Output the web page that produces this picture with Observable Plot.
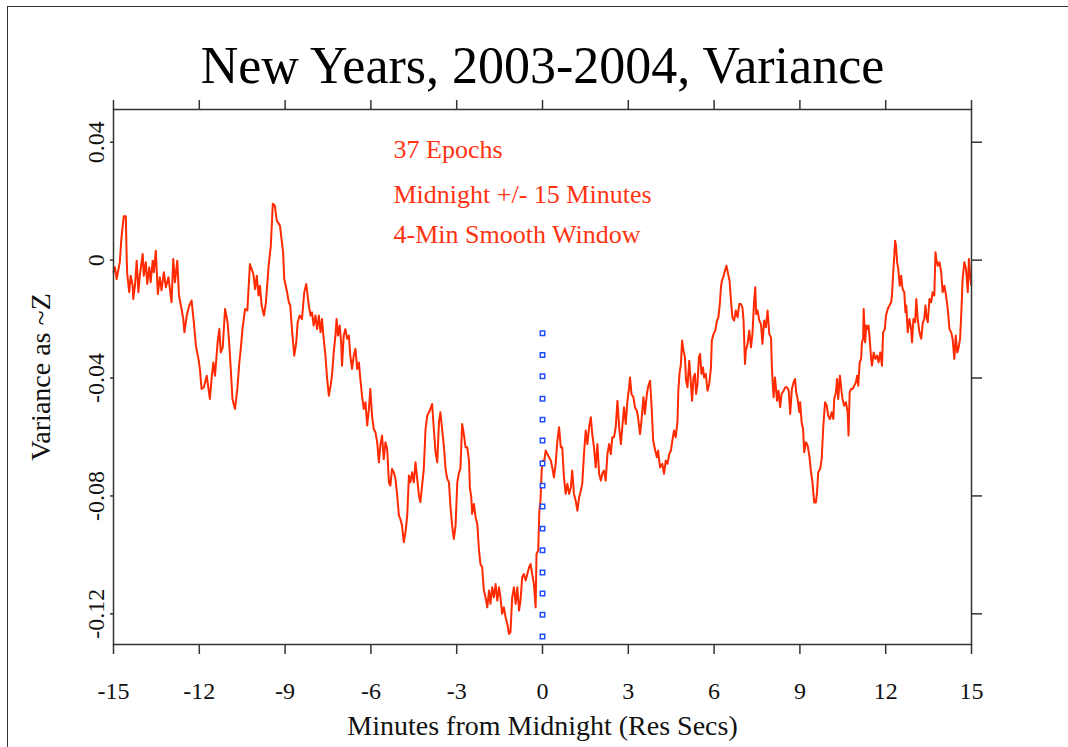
<!DOCTYPE html>
<html><head><meta charset="utf-8">
<script src="https://cdn.jsdelivr.net/npm/d3@7"></script>
<script src="https://cdn.jsdelivr.net/npm/@observablehq/plot@0.6"></script>
<style>
html,body{margin:0;padding:0;background:#fff;}
#wrap{position:relative;width:1068px;height:747px;overflow:hidden;}
#border{position:absolute;left:7px;top:6px;width:1100px;height:800px;border-left:1.5px solid #333;border-top:1.5px solid #333;}
#wrap svg{position:absolute;left:0;top:0;}
</style></head><body><div id="wrap"><div id="border"></div></div>
<script>
const title = "New Years, 2003-2004, Variance";
const xLabel = "Minutes from Midnight (Res Secs)";
const yLabel = "Variance as ~Z";
const notes = ["37 Epochs", "Midnight +/- 15 Minutes", "4-Min Smooth Window"];
const xTicks = [-15, -12, -9, -6, -3, 0, 3, 6, 9, 12, 15];
const yTicks = [0.04, 0, -0.04, -0.08, -0.12];
const yTickLabels = ["0.04", "0", "-0.04", "-0.08", "-0.12"];

const minutes = [
-15.00,-14.95,-14.89,-14.78,-14.72,-14.64,-14.57,-14.54,-14.52,-14.45,
-14.40,-14.33,-14.31,-14.25,-14.19,-14.13,-14.08,-13.98,-13.94,-13.87,
-13.82,-13.75,-13.70,-13.63,-13.59,-13.52,-13.45,-13.38,-13.32,-13.24,
-13.17,-13.08,-12.97,-12.91,-12.85,-12.77,-12.71,-12.62,-12.56,-12.52,
-12.44,-12.35,-12.27,-12.19,-12.12,-12.03,-11.98,-11.92,-11.84,-11.74,
-11.63,-11.57,-11.51,-11.45,-11.36,-11.30,-11.25,-11.18,-11.10,-11.01,
-10.95,-10.90,-10.84,-10.75,-10.67,-10.60,-10.55,-10.49,-10.40,-10.32,
-10.23,-10.11,-10.05,-9.99,-9.93,-9.88,-9.82,-9.74,-9.67,-9.58,
-9.50,-9.43,-9.36,-9.29,-9.18,-9.07,-9.03,-8.93,-8.87,-8.82,
-8.76,-8.68,-8.61,-8.56,-8.49,-8.41,-8.33,-8.26,-8.17,-8.11,
-8.06,-8.00,-7.94,-7.88,-7.82,-7.76,-7.71,-7.65,-7.59,-7.53,
-7.47,-7.41,-7.36,-7.30,-7.24,-7.20,-7.15,-7.09,-7.04,-7.01,
-6.95,-6.89,-6.83,-6.77,-6.72,-6.66,-6.60,-6.54,-6.48,-6.42,
-6.37,-6.31,-6.25,-6.19,-6.13,-6.07,-6.02,-5.96,-5.90,-5.84,
-5.78,-5.72,-5.67,-5.61,-5.55,-5.49,-5.43,-5.37,-5.32,-5.26,
-5.20,-5.14,-5.08,-5.02,-4.97,-4.91,-4.85,-4.79,-4.73,-4.67,
-4.62,-4.56,-4.50,-4.44,-4.38,-4.32,-4.27,-4.21,-4.15,-4.09,
-4.03,-3.97,-3.92,-3.86,-3.80,-3.74,-3.68,-3.62,-3.57,-3.51,
-3.45,-3.39,-3.33,-3.27,-3.22,-3.16,-3.10,-3.04,-2.98,-2.92,
-2.87,-2.81,-2.75,-2.69,-2.63,-2.57,-2.54,-2.49,-2.46,-2.40,
-2.34,-2.28,-2.22,-2.17,-2.11,-2.05,-1.99,-1.93,-1.87,-1.82,
-1.76,-1.70,-1.64,-1.58,-1.52,-1.47,-1.41,-1.35,-1.29,-1.23,
-1.17,-1.12,-1.06,-1.00,-0.94,-0.88,-0.82,-0.77,-0.71,-0.65,
-0.59,-0.53,-0.47,-0.42,-0.36,-0.30,-0.24,-0.21,-0.15,-0.11,
-0.07,-0.03,0.01,0.05,0.11,0.17,0.23,0.29,0.34,0.40,
0.46,0.52,0.58,0.64,0.69,0.75,0.81,0.87,0.93,0.99,
1.04,1.10,1.16,1.22,1.28,1.34,1.39,1.45,1.51,1.57,
1.63,1.69,1.74,1.80,1.86,1.92,1.98,2.04,2.09,2.15,
2.21,2.27,2.33,2.39,2.44,2.50,2.56,2.62,2.68,2.74,
2.79,2.85,2.91,2.97,3.03,3.06,3.11,3.18,3.23,3.30,
3.34,3.41,3.46,3.53,3.58,3.65,3.69,3.76,3.81,3.87,
3.94,4.00,4.04,4.11,4.19,4.25,4.31,4.37,4.43,4.49,
4.54,4.60,4.66,4.72,4.75,4.79,4.84,4.88,4.93,4.98,
5.02,5.07,5.13,5.19,5.23,5.28,5.33,5.37,5.42,5.47,
5.51,5.56,5.61,5.65,5.71,5.77,5.83,5.89,5.92,5.98,
6.04,6.10,6.15,6.20,6.24,6.27,6.32,6.38,6.43,6.49,
6.54,6.59,6.64,6.70,6.76,6.82,6.88,6.94,6.99,7.03,
7.08,7.11,7.17,7.23,7.29,7.34,7.40,7.44,7.47,7.52,
7.58,7.64,7.69,7.75,7.81,7.87,7.93,7.99,8.02,8.08,
8.13,8.20,8.25,8.31,8.36,8.43,8.49,8.55,8.61,8.66,
8.72,8.78,8.83,8.87,8.92,8.98,9.01,9.06,9.11,9.15,
9.21,9.27,9.33,9.39,9.44,9.50,9.56,9.60,9.64,9.71,
9.76,9.82,9.88,9.94,9.99,10.05,10.11,10.17,10.20,10.26,
10.30,10.34,10.40,10.46,10.49,10.55,10.61,10.67,10.70,10.74,
10.79,10.84,10.90,10.96,11.00,11.04,11.09,11.14,11.17,11.21,
11.23,11.28,11.32,11.37,11.40,11.44,11.49,11.52,11.58,11.64,
11.70,11.75,11.81,11.87,11.91,11.97,12.01,12.07,12.13,12.19,
12.22,12.27,12.30,12.33,12.36,12.40,12.44,12.49,12.54,12.59,
12.65,12.69,12.72,12.77,12.83,12.89,12.92,12.97,13.03,13.07,
13.12,13.18,13.24,13.30,13.35,13.39,13.42,13.47,13.53,13.59,
13.64,13.70,13.74,13.77,13.82,13.88,13.94,13.99,14.05,14.11,
14.17,14.23,14.29,14.34,14.40,14.45,14.50,14.54,14.60,14.64,
14.69,14.75,14.81,14.87,14.91,14.95,14.99
];

const variance = [
-0.0040,-0.0024,-0.0064,-0.0007,0.0078,0.0149,0.0149,0.0010,-0.0047,-0.0109,
-0.0053,-0.0087,-0.0132,-0.0087,-0.0002,-0.0109,-0.0053,0.0021,-0.0053,-0.0007,
-0.0081,-0.0024,-0.0075,-0.0002,-0.0041,0.0032,-0.0115,-0.0058,-0.0103,-0.0041,
-0.0092,-0.0058,-0.0143,0.0004,-0.0075,-0.0002,-0.0120,-0.0166,-0.0200,-0.0245,
-0.0188,-0.0154,-0.0137,-0.0211,-0.0290,-0.0335,-0.0369,-0.0437,-0.0431,-0.0392,
-0.0471,-0.0403,-0.0347,-0.0392,-0.0279,-0.0234,-0.0313,-0.0296,-0.0166,-0.0211,
-0.0290,-0.0369,-0.0471,-0.0505,-0.0437,-0.0347,-0.0301,-0.0234,-0.0166,-0.0171,
-0.0013,-0.0047,-0.0098,-0.0053,-0.0120,-0.0087,-0.0154,-0.0188,-0.0143,-0.0024,
0.0049,0.0191,0.0185,0.0134,0.0117,0.0027,-0.0064,-0.0109,-0.0143,-0.0154,
-0.0234,-0.0324,-0.0279,-0.0211,-0.0188,-0.0200,-0.0109,-0.0081,-0.0154,-0.0188,
-0.0177,-0.0222,-0.0188,-0.0234,-0.0188,-0.0245,-0.0200,-0.0267,-0.0324,-0.0403,
-0.0460,-0.0426,-0.0392,-0.0313,-0.0256,-0.0200,-0.0256,-0.0222,-0.0279,-0.0358,
-0.0256,-0.0234,-0.0267,-0.0256,-0.0324,-0.0369,-0.0324,-0.0301,-0.0369,-0.0347,
-0.0403,-0.0460,-0.0505,-0.0482,-0.0561,-0.0505,-0.0437,-0.0528,-0.0573,-0.0584,
-0.0618,-0.0686,-0.0629,-0.0595,-0.0675,-0.0618,-0.0641,-0.0754,-0.0765,-0.0708,
-0.0720,-0.0742,-0.0799,-0.0867,-0.0878,-0.0901,-0.0957,-0.0923,-0.0867,-0.0731,
-0.0754,-0.0720,-0.0754,-0.0686,-0.0742,-0.0799,-0.0821,-0.0765,-0.0708,-0.0573,
-0.0528,-0.0516,-0.0505,-0.0488,-0.0573,-0.0652,-0.0686,-0.0550,-0.0516,-0.0573,
-0.0629,-0.0708,-0.0742,-0.0754,-0.0833,-0.0901,-0.0946,-0.0901,-0.0754,-0.0720,
-0.0708,-0.0556,-0.0590,-0.0635,-0.0635,-0.0680,-0.0771,-0.0805,-0.0861,-0.0827,
-0.0872,-0.0895,-0.0985,-0.1031,-0.1042,-0.1121,-0.1144,-0.1178,-0.1121,-0.1166,
-0.1110,-0.1144,-0.1099,-0.1155,-0.1110,-0.1144,-0.1200,-0.1178,-0.1212,-0.1234,
-0.1268,-0.1262,-0.1144,-0.1110,-0.1166,-0.1110,-0.1189,-0.1155,-0.1076,-0.1065,
-0.1087,-0.1065,-0.1042,-0.1031,-0.1065,-0.1099,-0.1178,-0.0997,-0.0985,-0.0850,
-0.0816,-0.0714,-0.0680,-0.0691,-0.0646,-0.0658,-0.0669,-0.0680,-0.0703,-0.0737,
-0.0691,-0.0612,-0.0567,-0.0635,-0.0635,-0.0737,-0.0793,-0.0759,-0.0793,-0.0771,
-0.0714,-0.0793,-0.0816,-0.0850,-0.0805,-0.0782,-0.0759,-0.0658,-0.0578,-0.0624,
-0.0567,-0.0533,-0.0590,-0.0635,-0.0703,-0.0624,-0.0725,-0.0748,-0.0725,-0.0714,
-0.0748,-0.0658,-0.0624,-0.0658,-0.0601,-0.0601,-0.0567,-0.0477,-0.0567,-0.0624,
-0.0567,-0.0499,-0.0556,-0.0477,-0.0431,-0.0398,-0.0454,-0.0465,-0.0499,-0.0511,
-0.0533,-0.0590,-0.0545,-0.0465,-0.0522,-0.0454,-0.0431,-0.0409,-0.0488,-0.0612,
-0.0646,-0.0669,-0.0646,-0.0703,-0.0691,-0.0725,-0.0680,-0.0691,-0.0658,-0.0646,
-0.0612,-0.0578,-0.0601,-0.0545,-0.0443,-0.0386,-0.0352,-0.0273,-0.0307,-0.0330,
-0.0409,-0.0431,-0.0341,-0.0420,-0.0477,-0.0398,-0.0386,-0.0454,-0.0420,-0.0330,
-0.0318,-0.0386,-0.0364,-0.0398,-0.0386,-0.0443,-0.0420,-0.0364,-0.0273,-0.0251,
-0.0239,-0.0205,-0.0194,-0.0149,-0.0092,-0.0070,-0.0058,-0.0036,-0.0019,-0.0047,
-0.0070,-0.0137,-0.0194,-0.0205,-0.0171,-0.0194,-0.0149,-0.0149,-0.0160,-0.0205,
-0.0352,-0.0307,-0.0284,-0.0239,-0.0296,-0.0251,-0.0137,-0.0092,-0.0183,-0.0171,
-0.0205,-0.0217,-0.0284,-0.0205,-0.0228,-0.0171,-0.0251,-0.0262,-0.0364,-0.0465,
-0.0398,-0.0477,-0.0443,-0.0499,-0.0454,-0.0443,-0.0431,-0.0431,-0.0443,-0.0522,
-0.0437,-0.0414,-0.0403,-0.0448,-0.0471,-0.0516,-0.0482,-0.0550,-0.0573,-0.0652,
-0.0618,-0.0629,-0.0663,-0.0720,-0.0754,-0.0822,-0.0822,-0.0788,-0.0720,-0.0708,
-0.0675,-0.0561,-0.0482,-0.0494,-0.0528,-0.0539,-0.0516,-0.0539,-0.0471,-0.0448,
-0.0403,-0.0471,-0.0392,-0.0448,-0.0471,-0.0494,-0.0482,-0.0516,-0.0595,-0.0448,
-0.0437,-0.0437,-0.0426,-0.0414,-0.0392,-0.0426,-0.0347,-0.0335,-0.0279,-0.0267,
-0.0166,-0.0279,-0.0222,-0.0234,-0.0222,-0.0267,-0.0335,-0.0358,-0.0313,-0.0335,
-0.0324,-0.0347,-0.0313,-0.0358,-0.0245,-0.0234,-0.0188,-0.0166,-0.0154,-0.0143,
-0.0120,-0.0030,0.0015,0.0066,0.0049,-0.0007,-0.0030,-0.0087,-0.0053,-0.0098,
-0.0109,-0.0177,-0.0154,-0.0245,-0.0200,-0.0234,-0.0279,-0.0200,-0.0211,-0.0132,
-0.0200,-0.0245,-0.0267,-0.0211,-0.0200,-0.0154,-0.0188,-0.0211,-0.0132,-0.0143,
-0.0109,-0.0120,0.0027,0.0004,-0.0019,-0.0007,-0.0041,-0.0109,-0.0087,-0.0120,
-0.0166,-0.0234,-0.0245,-0.0267,-0.0335,-0.0256,-0.0313,-0.0301,-0.0267,-0.0188,
-0.0064,-0.0007,-0.0030,-0.0109,0.0004,-0.0050,-0.0084
];

const midnightMarkers = [-0.0248,-0.0322,-0.0394,-0.0470,-0.0541,-0.0612,-0.0690,-0.0765,-0.0836,-0.0911,-0.0984,-0.1060,-0.1131,-0.1203,-0.1277];

const series = minutes.map((m, i) => ({m, v: variance[i]}));
const serif = "'Liberation Serif','Times New Roman',Times,serif";
const axisColor = "#333";
const red = "#ff2a00";

const chart = Plot.plot({
  width: 1068,
  height: 747,
  marginLeft: 113,
  marginRight: 97,
  marginTop: 109,
  marginBottom: 103,
  style: {fontFamily: serif, fontSize: "22px", background: "transparent", color: "#111", overflow: "visible"},
  x: {domain: [-15, 15]},
  y: {domain: [-0.1304, 0.0511]},
  marks: [
    Plot.axisX(xTicks, {anchor: "bottom", tickSize: 10, tickFormat: () => "", label: null, stroke: axisColor, strokeWidth: 1.5}),
    Plot.axisX(xTicks, {anchor: "top", tickSize: 10, tickFormat: () => "", label: null, stroke: axisColor, strokeWidth: 1.5}),
    Plot.axisY(yTicks, {anchor: "left", tickSize: 3, tickFormat: () => "", label: null, stroke: axisColor, strokeWidth: 1.5}),
    Plot.axisY(yTicks, {anchor: "right", tickSize: 10, tickFormat: () => "", label: null, stroke: axisColor, strokeWidth: 1.5}),
    Plot.text(xTicks, {x: d => d, frameAnchor: "bottom", dy: 54, lineAnchor: "bottom", text: d => String(d), fontSize: 24, fill: "#111"}),
    Plot.text(yTicks, {y: d => d, frameAnchor: "left", dx: -10, rotate: -90, lineAnchor: "bottom", textAnchor: "middle", text: (d, i) => yTickLabels[i], fontSize: 24, fill: "#111"}),
    Plot.text([title], {frameAnchor: "top", dy: -27, lineAnchor: "bottom", fontSize: 52, fill: "#000"}),
    Plot.text([xLabel], {frameAnchor: "bottom", dy: 90, lineAnchor: "bottom", fontSize: 28, fill: "#111"}),
    Plot.text([yLabel], {frameAnchor: "left", dx: -64, rotate: -90, lineAnchor: "bottom", textAnchor: "middle", fontSize: 28, fill: "#111"}),
    Plot.text([notes[0]], {frameAnchor: "top-left", dx: 280, dy: 48, textAnchor: "start", lineAnchor: "bottom", fontSize: 26, fill: "#ff3311"}),
    Plot.text([notes[1]], {frameAnchor: "top-left", dx: 280, dy: 93, textAnchor: "start", lineAnchor: "bottom", fontSize: 26, fill: "#ff3311"}),
    Plot.text([notes[2]], {frameAnchor: "top-left", dx: 280, dy: 133, textAnchor: "start", lineAnchor: "bottom", fontSize: 26, fill: "#ff3311"}),
    Plot.line(series, {x: "m", y: "v", stroke: red, strokeWidth: 2}),
    Plot.dot(midnightMarkers, {x: () => 0, y: d => d, symbol: "square", r: 2.5, stroke: "#1f4fff", fill: "white", strokeWidth: 1.5}),
    Plot.frame({stroke: axisColor, strokeWidth: 1.5})
  ]
});
document.getElementById("wrap").appendChild(chart);
</script>
</body></html>
